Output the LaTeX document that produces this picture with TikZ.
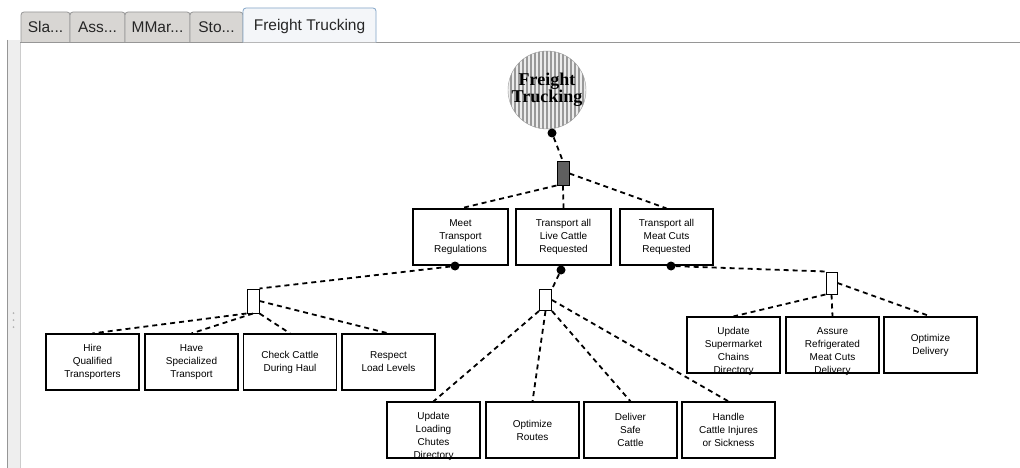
\documentclass[tikz,border=0pt]{standalone}
\usepackage{fontspec}
\setmainfont{Liberation Sans}
\newfontfamily\rootfont{Liberation Serif}
\definecolor{tabGray}{RGB}{216,214,211}
\definecolor{tabEdge}{RGB}{150,150,150}
\definecolor{tabBlue}{RGB}{130,165,200}
\definecolor{tabFill}{RGB}{244,246,249}
\definecolor{panelGray}{RGB}{238,238,238}
\definecolor{andGray}{RGB}{95,95,95}
\tikzset{
	gbox/.style={
		draw=black,
		line width=1.2pt,
		align=center,
		inner sep=0pt,
		minimum width=93pt,
		minimum height=56pt,
		font=\fontsize{10}{13}\selectfont
	},
	fourline/.style={text height=56pt, text depth=0pt},
	orbox/.style={draw=black, line width=1pt, fill=white, inner sep=0pt, minimum width=12pt, minimum height=23pt},
	andbox/.style={orbox, fill=andGray},
	jdot/.style={circle, fill=black, inner sep=0pt, minimum size=9pt},
	dline/.style={line width=1.8pt, dash pattern=on 5pt off 4pt},
	tab/.style={draw=tabEdge, fill=tabGray, rounded corners=3pt, line width=0.8pt},
	tablabel/.style={font=\fontsize{15.5}{16}\selectfont, text=black!85},
	rootnode/.style={
		circle, draw=gray!80, fill=gray!15, minimum size=78pt, inner sep=0pt, align=center,
		font=\rootfont\bfseries\fontsize{18}{17}\selectfont,
		path picture={
			\foreach \i in {-40,-36,...,40}
				\draw[gray!80, line width=1.4pt] ([xshift=\i pt]path picture bounding box.north) -- ([xshift=\i pt]path picture bounding box.south);
		}
	}
}
\begin{document}
\begin{tikzpicture}[x=1pt, y=-1pt]
	\useasboundingbox[fill=white] (0,0) rectangle (1020,468);
	% window frame and tabs
	\fill[panelGray] (7,40) rectangle (20,468);
	\draw[tabEdge, line width=0.8pt] (7,40) -- (7,468);
	\draw[gray!40, line width=0.6pt] (20,42) -- (20,468);
	\foreach \d in {313,320,327}
		\fill[gray!60] (13.5,\d) circle (1pt);
	\draw[tabEdge, line width=0.8pt] (20,42) -- (1020,42);
	\draw[tab] (21,42) |- (70,12) -- (70,42);
	\draw[tab] (70,42) |- (125,12) -- (125,42);
	\draw[tab] (125,42) |- (190,12) -- (190,42);
	\draw[tab] (190,42) |- (243,12) -- (243,42);
	\draw[tab, draw=tabBlue, fill=tabFill] (243,42.5) |- (376,8) -- (376,42.5);
	\node[tablabel] (t1) at (45.5,27) {Sla...};
	\node[tablabel] (t2) at (97.5,27) {Ass...};
	\node[tablabel] (t3) at (157.5,27) {MMar...};
	\node[tablabel] (t4) at (216.5,27) {Sto...};
	\node[tablabel] (t5) at (309.5,26) {Freight Trucking};
	% goal tree
	\node[rootnode] (root) at (547,90) {Freight\\Trucking};
	\node[jdot] (rootdot) at (552,133) {};
	\node[andbox] (and1) at (563,173.5) {};
	\node[gbox, minimum width=95pt] (meet) at (460.5,237) {Meet\\Transport\\Regulations};
	\node[gbox, minimum width=95pt] (live) at (563.5,237) {Transport all\\Live Cattle\\Requested};
	\node[gbox] (meat) at (666.5,237) {Transport all\\Meat Cuts\\Requested};
	\node[jdot] (meetdot) at (455,266) {};
	\node[jdot] (livedot) at (561,270) {};
	\node[jdot] (meatdot) at (671,266) {};
	\node[orbox, minimum height=24pt] (orL) at (253,301) {};
	\node[orbox, minimum height=21pt] (orM) at (545.5,300) {};
	\node[orbox, minimum width=11pt, minimum height=22pt] (orR) at (831.5,283) {};
	\node[gbox] (hire) at (92.5,362) {Hire\\Qualified\\Transporters};
	\node[gbox] (have) at (191.5,362) {Have\\Specialized\\Transport};
	\node[gbox] (check) at (290,362) {Check Cattle\\During Haul};
	\node[gbox] (respect) at (388.5,362) {Respect\\Load Levels};
	\node[gbox, fourline] (loading) at (433.5,430) {Update\\Loading\\Chutes\\Directory};
	\node[gbox] (routes) at (532.5,430) {Optimize\\Routes};
	\node[gbox] (deliver) at (630.5,430) {Deliver\\Safe\\Cattle};
	\node[gbox] (handle) at (728.5,430) {Handle\\Cattle Injures\\or Sickness};
	\node[gbox, fourline] (super) at (733.5,345) {Update\\Supermarket\\Chains\\Directory};
	\node[gbox, fourline] (assure) at (832.5,345) {Assure\\Refrigerated\\Meat Cuts\\Delivery};
	\node[gbox] (optdel) at (930.5,345) {Optimize\\Delivery};
	\draw[dline] (rootdot) -- (and1.north);
	\draw[dline] (and1.south west) -- (meet.north);
	\draw[dline] (and1.south) -- (live.north);
	\draw[dline] (and1.east) -- (meat.north);
	\draw[dline] (meetdot) -- (orL.north east);
	\draw[dline] (livedot) -- (orM.north east);
	\draw[dline] (meatdot) -- (orR.north west);
	\draw[dline] (orL.south west) -- (hire.north);
	\draw[dline] (orL.south) -- (have.north);
	\draw[dline] (orL.south east) -- (check.north);
	\draw[dline] (orL.east) -- (respect.north);
	\draw[dline] (orM.south west) -- (loading.north);
	\draw[dline] (orM.south) -- (routes.north);
	\draw[dline] (orM.south east) -- (deliver.north);
	\draw[dline] (orM.east) -- (handle.north);
	\draw[dline] (orR.south west) -- (super.north);
	\draw[dline] (orR.south) -- (assure.north);
	\draw[dline] (orR.east) -- (optdel.north);
\end{tikzpicture}
\end{document}
